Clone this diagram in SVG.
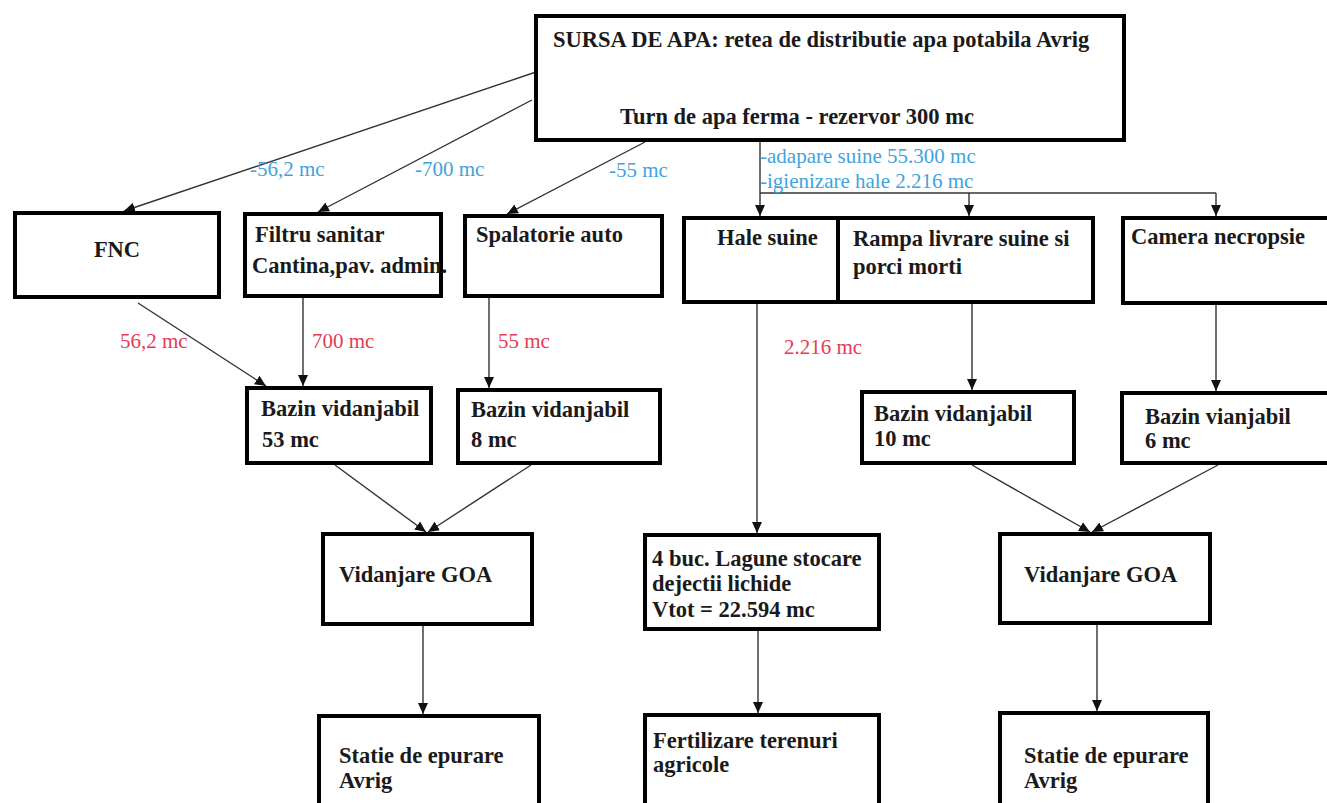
<svg xmlns="http://www.w3.org/2000/svg" width="1327" height="803" viewBox="0 0 1327 803">
<style>
.box{fill:#fff;stroke:#000;stroke-width:4}
.t{font-family:'Liberation Serif','DejaVu Serif',serif;font-weight:bold;font-size:22.5px;fill:#1a1a1a}
.lb{font-family:'Liberation Serif','DejaVu Serif',serif;font-size:21px;fill:#3fa3de}
.lr{font-family:'Liberation Serif','DejaVu Serif',serif;font-size:21px;fill:#e63a52}
.c{fill:none;stroke:#333;stroke-width:1.4}
</style>
<defs>
<marker id="ah" markerUnits="userSpaceOnUse" markerWidth="12" markerHeight="12" viewBox="0 0 12 12" refX="11" refY="6" orient="auto">
<path d="M0,1 L11,6 L0,11 z" fill="#111"/>
</marker>
</defs>
<rect width="1327" height="803" fill="#fff"/>
<g id="connectors">
<line class="c" x1="536" y1="72" x2="124" y2="211" marker-end="url(#ah)"/>
<line class="c" x1="532" y1="100" x2="318" y2="212" marker-end="url(#ah)"/>
<line class="c" x1="645" y1="142" x2="507" y2="214" marker-end="url(#ah)"/>
<line class="c" x1="760" y1="142" x2="760" y2="216" marker-end="url(#ah)"/>
<polyline class="c" points="760,193 1216,193"/>
<line class="c" x1="969" y1="193" x2="969" y2="216" marker-end="url(#ah)"/>
<line class="c" x1="1216" y1="193" x2="1216" y2="216" marker-end="url(#ah)"/>
<line class="c" x1="138" y1="303" x2="266" y2="386" marker-end="url(#ah)"/>
<line class="c" x1="303" y1="298" x2="303" y2="386" marker-end="url(#ah)"/>
<line class="c" x1="489" y1="298" x2="489" y2="388" marker-end="url(#ah)"/>
<line class="c" x1="757" y1="304" x2="757" y2="533" marker-end="url(#ah)"/>
<line class="c" x1="972" y1="304" x2="972" y2="390" marker-end="url(#ah)"/>
<line class="c" x1="1216" y1="304" x2="1216" y2="391" marker-end="url(#ah)"/>
<line class="c" x1="335" y1="465" x2="426" y2="532" marker-end="url(#ah)"/>
<line class="c" x1="531" y1="465" x2="428" y2="532" marker-end="url(#ah)"/>
<line class="c" x1="972" y1="465" x2="1090" y2="532" marker-end="url(#ah)"/>
<line class="c" x1="1218" y1="465" x2="1092" y2="532" marker-end="url(#ah)"/>
<line class="c" x1="423" y1="626" x2="423" y2="714" marker-end="url(#ah)"/>
<line class="c" x1="758" y1="631" x2="758" y2="713" marker-end="url(#ah)"/>
<line class="c" x1="1097" y1="625" x2="1097" y2="711" marker-end="url(#ah)"/>
<text class="lb" x="250" y="176">-56,2 mc</text>
<text class="lb" x="415" y="176">-700 mc</text>
<text class="lb" x="609" y="177">-55 mc</text>
<text class="lb" x="760" y="163">-adapare suine 55.300 mc</text>
<text class="lb" x="760" y="188">-igienizare hale 2.216 mc</text>
<text class="lr" x="120" y="348">56,2 mc</text>
<text class="lr" x="312" y="348">700 mc</text>
<text class="lr" x="498" y="348">55 mc</text>
<text class="lr" x="784" y="354">2.216 mc</text>
</g>
<g id="sursa"><rect class="box" x="536" y="16" width="588" height="124"/>
<text class="t" x="553" y="47">SURSA DE APA: retea de distributie apa potabila Avrig</text>
<text class="t" x="620" y="124">Turn de apa ferma - rezervor 300 mc</text></g>
<g id="fnc"><rect class="box" x="15" y="213" width="204" height="84"/>
<text class="t" x="117" y="257" text-anchor="middle">FNC</text></g>
<g id="filtru"><rect class="box" x="245" y="214" width="196" height="82"/>
<text class="t" x="255" y="242">Filtru sanitar</text>
<text class="t" x="252" y="273">Cantina,pav. admin.</text></g>
<g id="spalatorie"><rect class="box" x="465" y="216" width="197" height="80"/>
<text class="t" x="476" y="242">Spalatorie auto</text></g>
<g id="hale"><rect class="box" x="684" y="218" width="154" height="84"/>
<text class="t" x="717" y="245">Hale suine</text></g>
<g id="rampa"><rect class="box" x="838" y="218" width="255" height="84"/>
<text class="t" x="853" y="246">Rampa livrare suine si</text>
<text class="t" x="853" y="274">porci morti</text></g>
<g id="camera"><rect class="box" x="1123" y="218" width="215" height="85"/>
<text class="t" x="1131" y="244">Camera necropsie</text></g>
<g id="bazin53"><rect class="box" x="247" y="388" width="184" height="75"/>
<text class="t" x="261" y="416">Bazin vidanjabil</text>
<text class="t" x="262" y="447">53 mc</text></g>
<g id="bazin8"><rect class="box" x="458" y="390" width="202" height="73"/>
<text class="t" x="471" y="417">Bazin vidanjabil</text>
<text class="t" x="471" y="447">8 mc</text></g>
<g id="bazin10"><rect class="box" x="862" y="392" width="212" height="71"/>
<text class="t" x="874" y="421">Bazin vidanjabil</text>
<text class="t" x="874" y="446">10 mc</text></g>
<g id="bazin6"><rect class="box" x="1122" y="393" width="216" height="70"/>
<text class="t" x="1145" y="424">Bazin vianjabil</text>
<text class="t" x="1145" y="448">6 mc</text></g>
<g id="vidanjareL"><rect class="box" x="323" y="534" width="209" height="90"/>
<text class="t" x="339" y="582">Vidanjare GOA</text></g>
<g id="lagune"><rect class="box" x="645" y="535" width="234" height="94"/>
<text class="t" x="652" y="566">4 buc. Lagune stocare</text>
<text class="t" x="652" y="591">dejectii lichide</text>
<text class="t" x="652" y="617">Vtot = 22.594 mc</text></g>
<g id="vidanjareR"><rect class="box" x="1000" y="534" width="210" height="89"/>
<text class="t" x="1024" y="582">Vidanjare GOA</text></g>
<g id="statieL"><rect class="box" x="319" y="716" width="220" height="100"/>
<text class="t" x="339" y="763">Statie de epurare</text>
<text class="t" x="339" y="788">Avrig</text></g>
<g id="fertilizare"><rect class="box" x="645" y="715" width="234" height="100"/>
<text class="t" x="653" y="748">Fertilizare terenuri</text>
<text class="t" x="653" y="772">agricole</text></g>
<g id="statieR"><rect class="box" x="1000" y="713" width="208" height="100"/>
<text class="t" x="1024" y="763">Statie de epurare</text>
<text class="t" x="1024" y="788">Avrig</text></g>
</svg>
